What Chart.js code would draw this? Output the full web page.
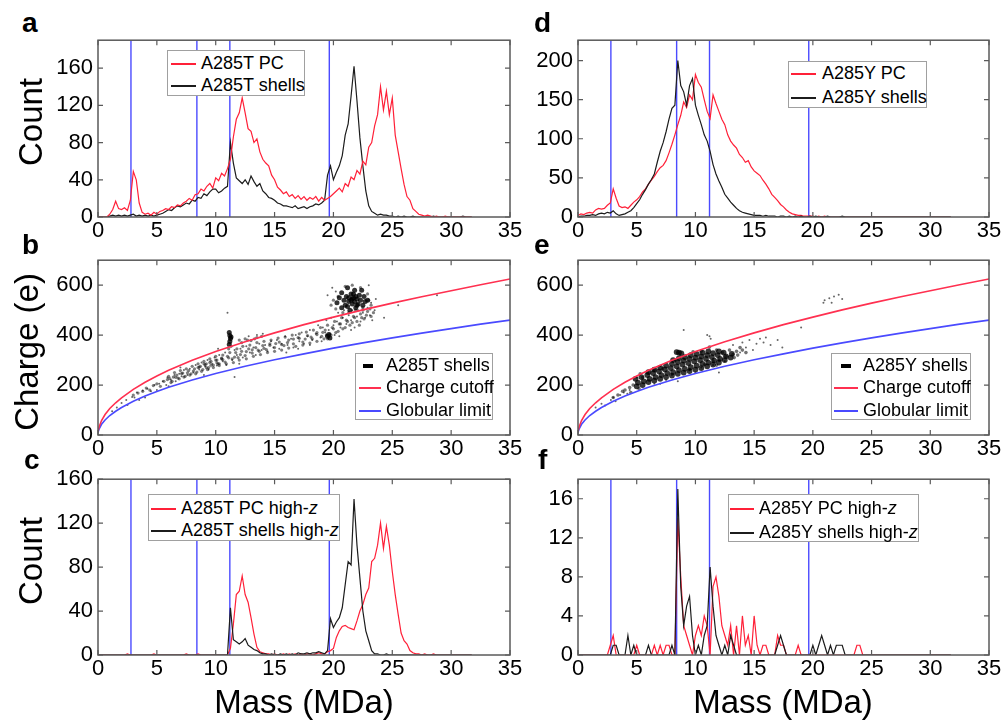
<!DOCTYPE html>
<html lang="en">
<head>
<meta charset="UTF-8">
<title>Mass histograms and charge vs mass, A285T / A285Y</title>
<script src="https://cdn.jsdelivr.net/npm/chart.js@4"></script>
<style>
  body { margin: 0; background: #fff; font-family: "Liberation Sans", Arial, sans-serif; }
  #fig { position: relative; width: 1004px; height: 723px; overflow: hidden; }
  canvas { position: absolute; }
  .lbl { position: absolute; font-weight: bold; font-size: 28px; line-height: 1; }
  .ytitle { position: absolute; font-size: 33px; line-height: 1; white-space: nowrap; transform: translate(-50%, -50%) rotate(-90deg); }
  .xtitle { position: absolute; font-size: 33px; line-height: 1; white-space: nowrap; transform: translateX(-50%); }
  .legend { position: absolute; box-sizing: border-box; background: #fff; border: 1px solid #a0a0a0; font-size: 18px; }
  .legend .txt { position: absolute; line-height: 22px; white-space: nowrap; color: #000; }
  .legend .ln { position: absolute; height: 1.5px; }
  .legend .bar { position: absolute; height: 4px; background: #000; }
</style>
</head>
<body>
<div id="fig">
  <div class="lbl" style="left:22px;top:9px">a</div>
  <div class="lbl" style="left:534px;top:9px">d</div>
  <div class="lbl" style="left:22px;top:231px">b</div>
  <div class="lbl" style="left:534px;top:231px">e</div>
  <div class="lbl" style="left:24px;top:446px">c</div>
  <div class="lbl" style="left:538px;top:446px">f</div>
  <div class="ytitle" style="left:30px;top:122px">Count</div>
  <div class="ytitle" style="left:26px;top:352px">Charge (e)</div>
  <div class="ytitle" style="left:30px;top:561px">Count</div>
  <div class="xtitle" style="left:304px;top:685px">Mass (MDa)</div>
  <div class="xtitle" style="left:783px;top:685px">Mass (MDa)</div>
</div>

<script>
  // histogram bins: 0.25 MDa wide, 0 .. 31.75 (rows below = 2 MDa each)
  const massBins = Array.from({length: 128}, (_, i) => i * 0.25);

  // vertical marker lines (MDa)
  const markerMass = [2.8, 8.4, 11.2, 19.65];

  // a: A285T
  const tPC = [
    0,0,0,0,3,8,17,9,
    8,10,7,18,49,40,15,5,
    3,4,2,5,3,6,7,9,
    8,11,10,13,12,15,17,20,
    18,24,25,30,28,33,36,31,
    42,39,47,44,52,62,86,105,
    112,128,112,95,92,80,84,70,
    62,58,55,45,40,32,29,25,
    27,22,24,20,23,19,22,18,
    21,19,22,17,21,18,20,22,
    25,28,31,27,36,33,43,40,
    50,46,60,56,75,80,98,110,
    140,115,135,110,128,88,70,52,
    35,22,18,9,6,3,2,1,
    2,1,0,1,0,0,1,0,
    0,0,0,0,0,0,0,0
  ];
  const tShells = [
    0,0,0,0,1,2,1,2,
    1,2,1,2,3,1,2,1,
    2,1,2,1,2,3,4,6,
    8,7,10,12,11,13,15,14,
    18,17,21,20,25,23,27,30,
    30,26,28,31,33,80,58,42,
    39,36,40,35,44,38,33,36,
    28,25,21,20,18,15,14,12,
    12,11,10,12,9,10,11,9,
    11,12,14,13,15,18,45,55,
    40,48,55,66,88,100,130,162,
    125,85,55,28,12,6,4,2,
    3,2,2,1,1,0,1,0,
    1,0,0,1,0,0,0,0,
    0,0,1,0,0,0,0,0,
    0,0,0,0,1,0,0,0
  ];

  // d: A285Y
  const yPC = [
    2,4,3,5,6,5,9,11,
    10,11,15,18,36,24,14,12,
    13,11,15,19,22,26,32,36,
    42,47,52,58,63,66,72,82,
    93,105,118,130,147,140,156,150,
    182,172,166,150,135,126,156,145,
    135,125,118,105,97,92,88,80,
    76,70,72,64,59,56,53,47,
    42,36,29,25,21,16,13,9,
    6,4,3,2,2,1,1,1,
    1,0,1,0,1,0,0,0,
    0,0,0,0,0,0,0,0,
    0,0,0,0,0,0,0,0,
    0,0,0,0,0,0,0,0,
    0,0,0,0,0,0,0,0,
    0,0,0,0,0,0,0,0
  ];
  const yShells = [
    0,1,1,2,2,3,2,4,
    5,4,6,5,8,4,2,3,
    4,6,8,12,17,22,29,35,
    42,48,55,70,84,95,109,125,
    139,143,200,168,160,143,168,177,
    143,130,118,105,97,84,67,55,
    46,38,29,24,19,15,11,8,
    6,5,4,3,2,2,2,1,
    2,1,1,1,0,1,1,0,
    1,0,1,0,1,0,0,1,
    0,1,0,0,0,1,0,0,
    0,0,1,0,0,0,0,0,
    0,0,0,0,0,0,0,0,
    0,0,0,0,0,0,0,0,
    0,0,0,0,0,0,0,0,
    0,0,0,0,0,0,0,0
  ];

  // c: A285T high-z
  const tPCHigh = [
    0,0,0,0,0,0,0,0,
    0,0,1,0,0,0,0,0,
    0,0,0,1,0,0,0,0,
    0,0,0,0,0,0,1,0,
    0,0,1,0,0,0,0,0,
    0,0,0,0,0,6,28,55,
    58,72,55,48,34,19,7,3,
    2,1,1,0,1,0,0,1,
    0,1,0,1,0,1,0,1,
    1,0,1,2,1,1,3,4,
    6,16,22,26,27,25,24,23,
    31,40,46,55,61,85,88,100,
    120,97,117,100,76,55,37,20,
    13,10,4,2,1,1,0,1,
    0,0,1,0,0,0,0,0,
    0,0,0,0,0,0,0,0
  ];
  const tShellsHigh = [
    0,0,0,0,0,0,0,0,
    0,0,0,0,0,0,0,0,
    0,0,0,0,0,0,0,0,
    0,0,0,0,0,0,0,0,
    0,0,0,0,0,0,0,0,
    0,0,0,0,0,43,14,12,
    10,12,15,9,7,5,4,2,
    1,1,0,1,0,0,1,0,
    1,0,1,0,2,1,1,2,
    1,2,2,3,2,1,4,33,
    25,30,34,43,64,85,82,142,
    100,70,40,22,13,4,1,1,
    0,0,1,0,0,0,0,0,
    0,0,0,0,0,0,0,0,
    0,0,0,0,0,0,0,0,
    0,0,0,0,0,0,0,0
  ];

  // f: A285Y high-z
  const yPCHigh = [
    0,0,0,0,0,0,0,0,
    0,0,0,1,2,0,0,0,
    0,0,0,0,1,0,0,0,
    0,0,1,0,1,0,1,1,
    0,0,14,8,3,2,1,0,
    2,3,2,4,3,0,7,8,
    6,3,2,1,3,0,3,0,
    4,1,2,0,4,1,0,1,
    1,0,0,0,2,1,1,0,
    0,0,0,1,0,0,0,0,
    0,0,0,0,0,0,0,0,
    0,0,0,0,0,0,0,1,
    1,0,0,0,0,0,0,0,
    0,0,0,0,0,0,0,0,
    0,0,0,0,0,0,0,0,
    0,0,0,0,0,0,0,0
  ];
  const yShellsHigh = [
    0,0,0,0,0,0,0,0,
    0,0,0,0,1,1,0,0,
    0,2,0,1,0,0,0,0,
    1,0,0,0,0,0,0,0,
    1,0,17,7,3,5,6,2,
    0,1,0,2,3,9,5,2,
    1,0,1,0,2,1,0,0,
    0,0,0,0,0,0,0,0,
    0,0,0,0,1,2,1,0,
    0,0,0,0,0,0,0,0,
    1,0,1,2,1,0,1,0,
    1,1,1,0,0,0,0,0,
    0,0,0,0,0,0,0,0,
    0,0,0,0,0,0,0,0,
    0,0,0,0,0,0,0,0,
    0,0,0,0,0,0,0,0
  ];

  // b, e: charge limits
  const curveMass = [0, 0.1, 0.3, 0.6, 1, 1.5, 2, 3, 4, 5, 6, 8, 10, 12.5, 15, 17.5, 20, 22.5, 25, 27.5, 30, 32.5, 35];
  const chargeCutoff = [15, 33, 58, 82, 106, 129, 149, 183, 211, 236, 259, 299, 334, 373, 409, 442, 472, 501, 528, 554, 578, 602, 625];
  const globularLimit = [10, 25, 43, 60, 78, 95, 110, 135, 156, 174, 191, 220, 246, 275, 301, 325, 348, 369, 389, 408, 426, 444, 460];

  // b: A285T shells (mass, charge) - dense spots, band, loose dots
  const tCore = [
    [20.3,530],[20.5,550],[20.7,510],[20.7,570],[20.9,540],[21.0,520],[21.1,555],[21.2,590],
    [21.3,535],[21.4,500],[21.5,565],[21.6,525],[21.7,550],[21.8,580],[21.9,510],[22.0,545],
    [22.1,525],[22.2,560],[22.3,540],[22.4,580],[22.5,520],[22.6,555],[22.7,535],[22.9,540],
    [21.5,540],[21.8,535],[21.3,550],[21.7,565],[22.0,520],[21.2,515],[21.6,545],[21.9,555],
    [11.15,410],[11.2,398],[11.25,386],[11.2,374],[11.15,362],[11.3,392],
    [19.5,395],[19.7,388],[19.6,402]
  ];
  const tBand = [
    [3.0,160],[3.4,168],[3.8,175],[4.1,188],[4.4,180],[4.7,198],[5.0,205],[5.3,195],[5.6,215],
    [5.9,222],[6.2,210],[6.4,232],[6.7,240],[6.9,225],[7.2,248],[7.4,235],[7.7,258],[7.9,245],
    [8.2,265],[8.4,252],[8.7,275],[8.9,262],[9.2,285],[9.4,270],[9.6,295],[9.8,280],[10.1,300],
    [10.3,285],[10.5,308],[10.8,292],[11.0,315],[11.4,305],[11.7,330],[11.9,310],[12.2,335],
    [12.5,318],[12.8,345],[13.1,328],[13.4,350],[13.7,335],[14.0,358],[14.3,342],[14.6,365],
    [15.0,350],[15.4,372],[15.8,358],[16.2,380],[16.6,365],[17.0,390],[17.4,372],[17.8,398],
    [18.2,385],[18.6,410],[19.0,395],[19.3,420],[19.6,392],[19.9,430],[20.2,410],[20.5,445],
    [20.8,425],[21.1,460],[21.4,440],[21.7,475],[22.0,455],[22.3,485],[22.6,465],[22.9,495],
    [23.2,475],[19.8,520],[20.0,540],[20.2,505],[20.4,555],[23.0,540],[23.2,520],[22.9,565],
    [21.0,595],[21.6,600],[22.3,590],[20.8,490],[22.5,500],[12.0,380],[12.5,385],[13.0,378],
    [13.5,390],[12.2,370],[8.5,270],[9.0,285],[9.5,290],[10.0,300],[10.5,305],[9.2,270],[10.2,285],
    [6.0,235],[6.3,215],[6.5,250],[6.8,228],[7.0,258],[7.3,232],[7.5,265],[7.8,240],[8.0,275],
    [8.3,245],[8.5,285],[8.8,255],[9.0,295],[9.3,262],[9.5,305],[9.8,270],[10.0,315],[10.3,278],
    [10.6,320],[10.9,285],[11.2,330],[11.5,290],[11.8,345],[12.0,300],[12.3,355],[12.6,305],
    [12.9,360],[13.2,315],[13.5,370],[13.8,322],[14.1,375],[14.4,330],[14.7,380],[15.0,335],
    [15.3,388],[15.6,340],[15.9,392],[16.2,348],[16.5,400],[16.8,355],[17.1,405],[17.4,360],
    [17.7,412],[18.0,368],[18.3,420],[18.6,375],[18.9,430],[19.2,385],[19.5,440],[19.8,400],
    [20.1,455],[20.4,415],[20.7,470],[21.0,430],[21.3,490],[21.6,450],[21.9,500],[22.2,440],
    [22.5,510],[22.8,480],[23.1,505],[23.4,490],[19.4,400],[19.7,405],[19.5,385],[11.3,355],
    [11.1,345],[12.7,380],[13.3,385],[13.9,395],
    [6.1,226],[7.1,246],[8.1,256],[9.1,281],[10.1,289],[11.1,309],[12.1,322],[13.1,341],
    [14.1,347],[15.1,366],[16.1,370],[17.1,387],[18.1,392],[19.1,411],[6.6,231],[7.6,249],
    [8.6,272],[9.6,279],[10.6,302],[11.6,312],[12.6,334],[13.6,340],[14.6,359],[15.6,362],
    [16.6,384],[17.6,384],[18.6,402],[20.0,425],[20.6,445],[21.2,455],[21.8,470],[22.4,470]
  ];
  const tLoose = [
    [1.2,95],[1.6,110],[2.0,128],[2.4,140],[2.9,152],[3.3,170],[3.1,150],[3.8,178],[4.2,185],
    [4.5,175],[4.8,200],[5.2,205],[5.5,215],[5.8,200],[5.9,230],[6.2,220],[6.5,240],[6.6,215],
    [6.9,245],[7.1,235],[7.3,260],[7.6,240],[7.8,265],[8.1,250],[8.3,280],[8.6,262],[8.8,290],
    [9.1,275],[9.3,300],[9.4,262],[9.7,285],[9.9,310],[10.1,278],[10.3,320],[10.6,295],[10.8,330],
    [10.9,280],[11.4,300],[11.6,340],[11.8,320],[12.1,345],[12.3,310],[12.6,355],[12.9,330],
    [13.2,350],[13.4,320],[13.7,365],[13.9,340],[14.2,360],[14.4,335],[14.7,375],[14.9,350],
    [15.2,380],[15.4,345],[15.6,365],[15.9,395],[16.1,360],[16.4,385],[16.6,350],[16.8,400],
    [17.1,375],[17.3,410],[17.5,365],[17.8,395],[18.0,420],[18.2,380],[18.5,405],[18.7,440],
    [18.9,390],[19.1,430],[19.3,410],[19.4,460],[19.6,420],[19.8,470],[20.0,440],[20.1,400],
    [20.3,455],[20.4,490],[20.6,430],[20.8,470],[20.9,500],[21.1,445],[21.3,480],[21.5,460],
    [21.6,500],[21.8,430],[22.0,475],[22.1,500],[22.3,455],[22.5,490],[22.7,470],[22.9,510],
    [23.1,480],[23.3,460],[23.5,500],[23.2,530],[19.5,560],[19.9,590],[20.2,575],[23.0,600],
    [23.6,545],[24.3,470],[25.5,520],[28.8,560],[11.0,490],[10.2,345],[12.8,395],[13.5,400],
    [14.0,405],[6.0,195],[7.0,270],[5.0,180],[3.5,140],[9.0,240],[11.6,232],[12.0,285],
    [16.0,330],[17.0,345],[18.0,360],[19.0,375],[20.5,395],[21.5,420],[4.0,150],[2.5,120]
  ];

  // e: A285Y shells
  const yCore = [
    [5.0,195],[5.1,210],[4.9,225],
    [5.5,200],[5.6,215],[5.4,232],
    [6.0,212],[6.1,225],[5.9,240],[6.0,252],
    [6.5,218],[6.6,232],[6.4,248],[6.5,262],
    [7.0,225],[7.1,240],[6.9,255],[7.0,270],
    [7.5,232],[7.6,248],[7.4,263],[7.5,278],
    [8.0,238],[8.1,252],[7.9,268],[8.0,285],[8.1,300],
    [8.5,245],[8.6,260],[8.4,275],[8.5,292],[8.6,308],
    [9.0,250],[9.1,265],[8.9,282],[9.0,298],[9.1,312],
    [9.5,256],[9.6,272],[9.4,288],[9.5,305],[9.6,320],
    [10.0,262],[10.1,278],[9.9,295],[10.0,310],[10.1,325],
    [10.5,268],[10.6,285],[10.4,300],[10.5,315],[10.6,330],
    [11.0,275],[11.1,290],[10.9,305],[11.0,320],[11.1,335],
    [11.5,282],[11.6,298],[11.4,312],[11.5,328],
    [12.0,290],[12.1,305],[11.9,320],[12.0,335],
    [12.5,300],[12.6,315],[12.4,330],
    [13.0,310],[13.1,325],
    [8.4,332],[8.6,330],[8.8,327]
  ];
  const yBand = [
    [4.0,180],[4.4,190],[4.7,200],[5.2,185],[12.3,330],[12.6,315],[12.9,340],[13.2,322],
    [11.8,340],[11.5,295],[10.5,335],[12.0,300],[6.5,260],[5.5,230],[9.5,262],[10.8,282],
    [13.5,335],[13.8,350],[3.4,160],[3.0,150],[8.3,300],[7.2,265],[11.2,352],[13.3,310],
    [13.6,320],[14.0,340],[14.3,330],[4.5,170],[3.8,175],[5.3,245],[9.8,333],[11.8,280]
  ];
  const yLoose = [
    [1.5,110],[2.0,125],[2.3,118],[2.8,140],[3.0,150],[3.2,135],[3.6,160],[3.9,170],[4.2,165],
    [4.4,180],[5.0,230],[6.0,250],[6.5,205],[7.0,275],[7.5,220],[8.0,240],[8.2,300],[9.5,260],
    [10.5,270],[11.5,280],[12.5,295],[13.2,360],[13.8,330],[14.0,370],[14.3,350],[14.6,380],
    [14.9,340],[15.2,365],[15.5,385],[15.8,370],[16.0,390],[16.4,360],[17.0,380],[17.4,350],
    [11.2,395],[9.0,420],[10.0,250],[8.5,215],[21.0,540],[21.4,548],[21.8,555],[22.2,562],
    [22.5,545],[21.6,530],[20.9,530],[19.0,430],[12.0,250],[7.0,205],[11.0,400],[11.3,385]
  ];

  const RED = '#ff2038', BLACK = '#1c1c1c', BLUE = '#4b4bff';
  Chart.defaults.font.family = '"Liberation Sans", Arial, sans-serif';
  Chart.defaults.color = '#000';

  const hist = vals => vals.map((v, i) => ({x: massBins[i], y: v}));
  const pts = list => list.map(p => ({x: p[0], y: p[1]}));
  const curve = vals => vals.map((v, i) => ({x: curveMass[i], y: v}));

  function lineSet(data, color, width) {
    return { data, showLine: true, borderColor: color, borderWidth: width, pointRadius: 0, fill: false, tension: 0 };
  }
  function markers(yMax) {
    return markerMass.map(m => lineSet([{x: m, y: 0}, {x: m, y: yMax}], BLUE, 1.4));
  }
  function dots(data, r, alpha) {
    return { data, pointRadius: r, pointBorderWidth: 0, backgroundColor: 'rgba(0,0,0,' + alpha + ')', showLine: false };
  }

  // box frame with inward ticks on all four sides
  const framePlugin = {
    id: 'frame',
    afterDatasetsDraw(chart) {
      const {ctx, chartArea: a, scales} = chart;
      ctx.save();
      ctx.strokeStyle = '#5a5a5a';
      ctx.lineWidth = 1.5;
      ctx.strokeRect(a.left, a.top, a.right - a.left, a.bottom - a.top);
      ctx.lineWidth = 1.2;
      ctx.beginPath();
      scales.x.ticks.forEach(t => {
        const px = scales.x.getPixelForValue(t.value);
        ctx.moveTo(px, a.bottom); ctx.lineTo(px, a.bottom - 5);
        ctx.moveTo(px, a.top); ctx.lineTo(px, a.top + 5);
      });
      scales.y.ticks.forEach(t => {
        const py = scales.y.getPixelForValue(t.value);
        ctx.moveTo(a.left, py); ctx.lineTo(a.left + 5, py);
        ctx.moveTo(a.right, py); ctx.lineTo(a.right - 5, py);
      });
      ctx.stroke();
      ctx.restore();
    }
  };

  const COLS = [[98, 510], [578, 989]];
  const ROWS = [[38, 217], [258, 435], [477, 655]];
  const fig = document.getElementById('fig');

  function panel(col, row, yMax, yStep, datasets) {
    const [L, R] = COLS[col], [T, B] = ROWS[row];
    const cv = document.createElement('canvas');
    const w = R - L + 78, h = B - T + 50;
    cv.width = w; cv.height = h;
    cv.style.left = (L - 60) + 'px';
    cv.style.top = (T - 16) + 'px';
    cv.style.width = w + 'px';
    cv.style.height = h + 'px';
    fig.insertBefore(cv, fig.firstChild);
    return new Chart(cv, {
      type: 'scatter',
      data: { datasets },
      options: {
        responsive: false,
        animation: false,
        devicePixelRatio: 1,
        layout: { padding: { top: 16, right: 18, left: 0, bottom: 0 } },
        plugins: { legend: { display: false }, tooltip: { enabled: false } },
        scales: {
          x: {
            type: 'linear', min: 0, max: 35,
            grid: { display: false, drawTicks: false },
            border: { display: false },
            ticks: { stepSize: 5, padding: 1, font: { size: 22 }, color: '#000', includeBounds: false, maxRotation: 0, autoSkip: false },
            afterFit: s => { s.height = 34; }
          },
          y: {
            type: 'linear', min: 0, max: yMax,
            grid: { display: false, drawTicks: false },
            border: { display: false },
            ticks: { stepSize: yStep, padding: 5, font: { size: 22 }, color: '#000', includeBounds: false, autoSkip: false },
            afterFit: s => { s.width = 60; }
          }
        }
      },
      plugins: [framePlugin]
    });
  }

  // a
  panel(0, 0, 190, 40, [lineSet(hist(tPC), RED, 1.2), lineSet(hist(tShells), BLACK, 1.2), ...markers(190)]);
  // d
  panel(1, 0, 226, 50, [lineSet(hist(yShells), BLACK, 1.2), lineSet(hist(yPC), RED, 1.2), ...markers(226)]);
  // b
  panel(0, 1, 700, 200, [
    lineSet(curve(chargeCutoff), '#ff3050', 1.6), lineSet(curve(globularLimit), '#4a4aff', 1.6),
    dots(pts(tCore), 2.5, 0.8), dots(pts(tBand), 1.6, 0.5), dots(pts(tLoose), 1.0, 0.6)
  ]);
  // e
  panel(1, 1, 700, 200, [
    lineSet(curve(chargeCutoff), '#ff3050', 1.6), lineSet(curve(globularLimit), '#4a4aff', 1.6),
    dots(pts(yCore), 2.9, 0.78), dots(pts(yBand), 1.8, 0.55), dots(pts(yLoose), 1.0, 0.6)
  ]);
  // c
  panel(0, 2, 160, 40, [lineSet(hist(tShellsHigh), BLACK, 1.2), lineSet(hist(tPCHigh), RED, 1.2), ...markers(160)]);
  // f
  panel(1, 2, 18, 4, [lineSet(hist(yShellsHigh), BLACK, 1.2), lineSet(hist(yPCHigh), RED, 1.2), ...markers(18)]);

  // legends (boxes drawn as page elements)
  function legend(left, top, w, h, textX, rows) {
    const box = document.createElement('div');
    box.className = 'legend';
    box.style.cssText = 'left:' + left + 'px;top:' + top + 'px;width:' + w + 'px;height:' + h + 'px';
    rows.forEach(r => {
      const mark = document.createElement('div');
      mark.className = r.bar ? 'bar' : 'ln';
      mark.style.left = r.x0 + 'px';
      mark.style.width = (r.x1 - r.x0) + 'px';
      mark.style.top = (r.bar ? r.y - 2 : r.y - 0.75) + 'px';
      mark.style.backgroundColor = r.bar ? '#000' : r.color;
      box.appendChild(mark);
      const t = document.createElement('div');
      t.className = 'txt';
      t.style.left = textX + 'px';
      t.style.top = (r.y - 12) + 'px';
      t.innerHTML = r.text;
      box.appendChild(t);
    });
    fig.appendChild(box);
  }

  legend(167, 50, 138, 46, 33, [
    {x0: 3, x1: 28, y: 13, color: RED, text: 'A285T PC'},
    {x0: 3, x1: 28, y: 35, color: BLACK, text: 'A285T shells'}
  ]);
  legend(788, 61, 139, 47, 33, [
    {x0: 2, x1: 27, y: 12, color: RED, text: 'A285Y PC'},
    {x0: 2, x1: 27, y: 36, color: BLACK, text: 'A285Y shells'}
  ]);
  legend(355, 353, 138, 67, 30, [
    {bar: true, x0: 7, x1: 17, y: 12, text: 'A285T shells'},
    {x0: 3, x1: 25, y: 34, color: '#ff3050', text: 'Charge cutoff'},
    {x0: 3, x1: 25, y: 57, color: '#4a4aff', text: 'Globular limit'}
  ]);
  legend(831, 353, 140, 67, 31, [
    {bar: true, x0: 9, x1: 19, y: 12, text: 'A285Y shells'},
    {x0: 2, x1: 26, y: 34, color: '#ff3050', text: 'Charge cutoff'},
    {x0: 2, x1: 26, y: 57, color: '#4a4aff', text: 'Globular limit'}
  ]);
  legend(148, 494, 192, 47, 32, [
    {x0: 2, x1: 27, y: 14, color: RED, text: 'A285T PC high-<i>z</i>'},
    {x0: 2, x1: 27, y: 36, color: BLACK, text: 'A285T shells high-<i>z</i>'}
  ]);
  legend(728, 494, 191, 48, 30, [
    {x0: 1, x1: 25, y: 14, color: RED, text: 'A285Y PC high-<i>z</i>'},
    {x0: 1, x1: 25, y: 38, color: BLACK, text: 'A285Y shells high-<i>z</i>'}
  ]);
</script>
</body>
</html>
